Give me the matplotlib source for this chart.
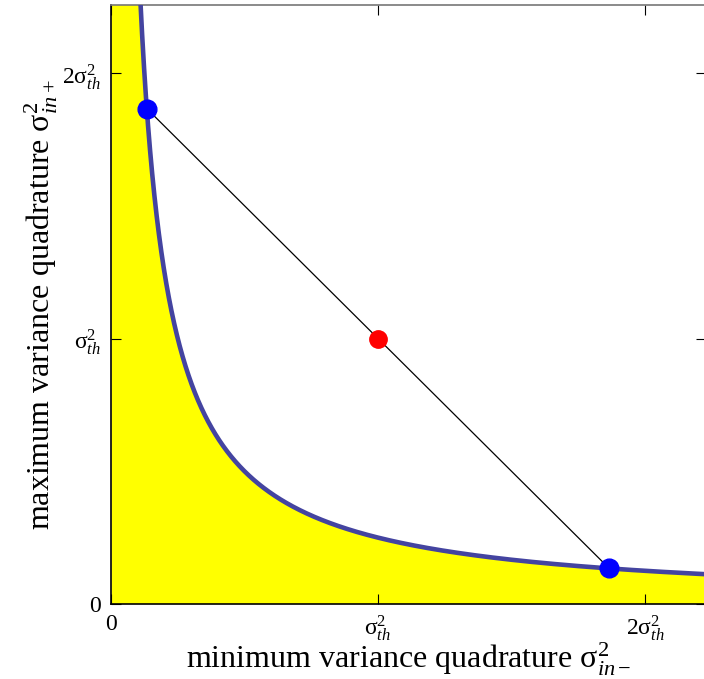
import numpy as np
import matplotlib.pyplot as plt

# boundary curve: sigma_- * sigma_+ = product (units of sigma_th^2)
product = 0.25
x_curve = np.linspace(0.002, 2.4, 4000)
y_curve = product / x_curve

# operating points
red_point = (1.0, 1.0)
blue_x = [1 - np.sqrt(0.75), 1 + np.sqrt(0.75)]
blue_y = [1 + np.sqrt(0.75), 1 - np.sqrt(0.75)]

tick_pos = [0, 1, 2]
xtick_labels = ["0", r"$\mathrm{\sigma}^2_{th}$", r"$2\mathrm{\sigma}^2_{th}$"]
ytick_labels = ["0", r"$\mathrm{\sigma}^2_{th}$", r"$2\mathrm{\sigma}^2_{th}$"]

plt.rcParams["font.family"] = "Liberation Serif"
plt.rcParams["mathtext.fontset"] = "custom"
plt.rcParams["mathtext.rm"] = "Liberation Serif"
plt.rcParams["mathtext.it"] = "Liberation Serif:italic"

fig = plt.figure(figsize=(7.04, 6.79), dpi=100)
W, H = 704, 679
left, right, top, bottom = 111, 706, 5, 604
ax = fig.add_axes([left / W, 1 - bottom / H, (right - left) / W, (bottom - top) / H])

ax.fill_between(x_curve, 0, y_curve, color="#ffff00", lw=0, zorder=1)
ax.plot(x_curve, y_curve, color="#4444a0", lw=3.3, zorder=3)
ax.plot(blue_x, blue_y, color="black", lw=0.9, zorder=2)
ax.plot(blue_x, blue_y, "o", color="#0000ff", ms=13.5, zorder=4)
ax.plot(*red_point, "o", color="#ff0000", ms=12.5, zorder=4)

ax.set_xlim(0, (right - left) / 267)
ax.set_ylim(0, (bottom - top) / 265.5)

ax.set_xticks(tick_pos)
ax.set_xticklabels(xtick_labels, fontsize=17)
ax.set_yticks(tick_pos)
ax.set_yticklabels(ytick_labels, fontsize=17)
ax.tick_params(direction="in", length=7, width=0.8, top=True, right=True, pad=7)
for sp in ax.spines.values():
    sp.set_linewidth(1.2)
ax.spines["top"].set_color("#777777")

ax.set_xlabel(r"minimum variance quadrature $\mathrm{\sigma}^2_{in-}$", fontsize=23, labelpad=-2)
ax.set_ylabel(r"maximum variance quadrature $\mathrm{\sigma}^2_{in+}$", fontsize=23, labelpad=2)

fig.savefig("out.png", dpi=100)
plt.close()
